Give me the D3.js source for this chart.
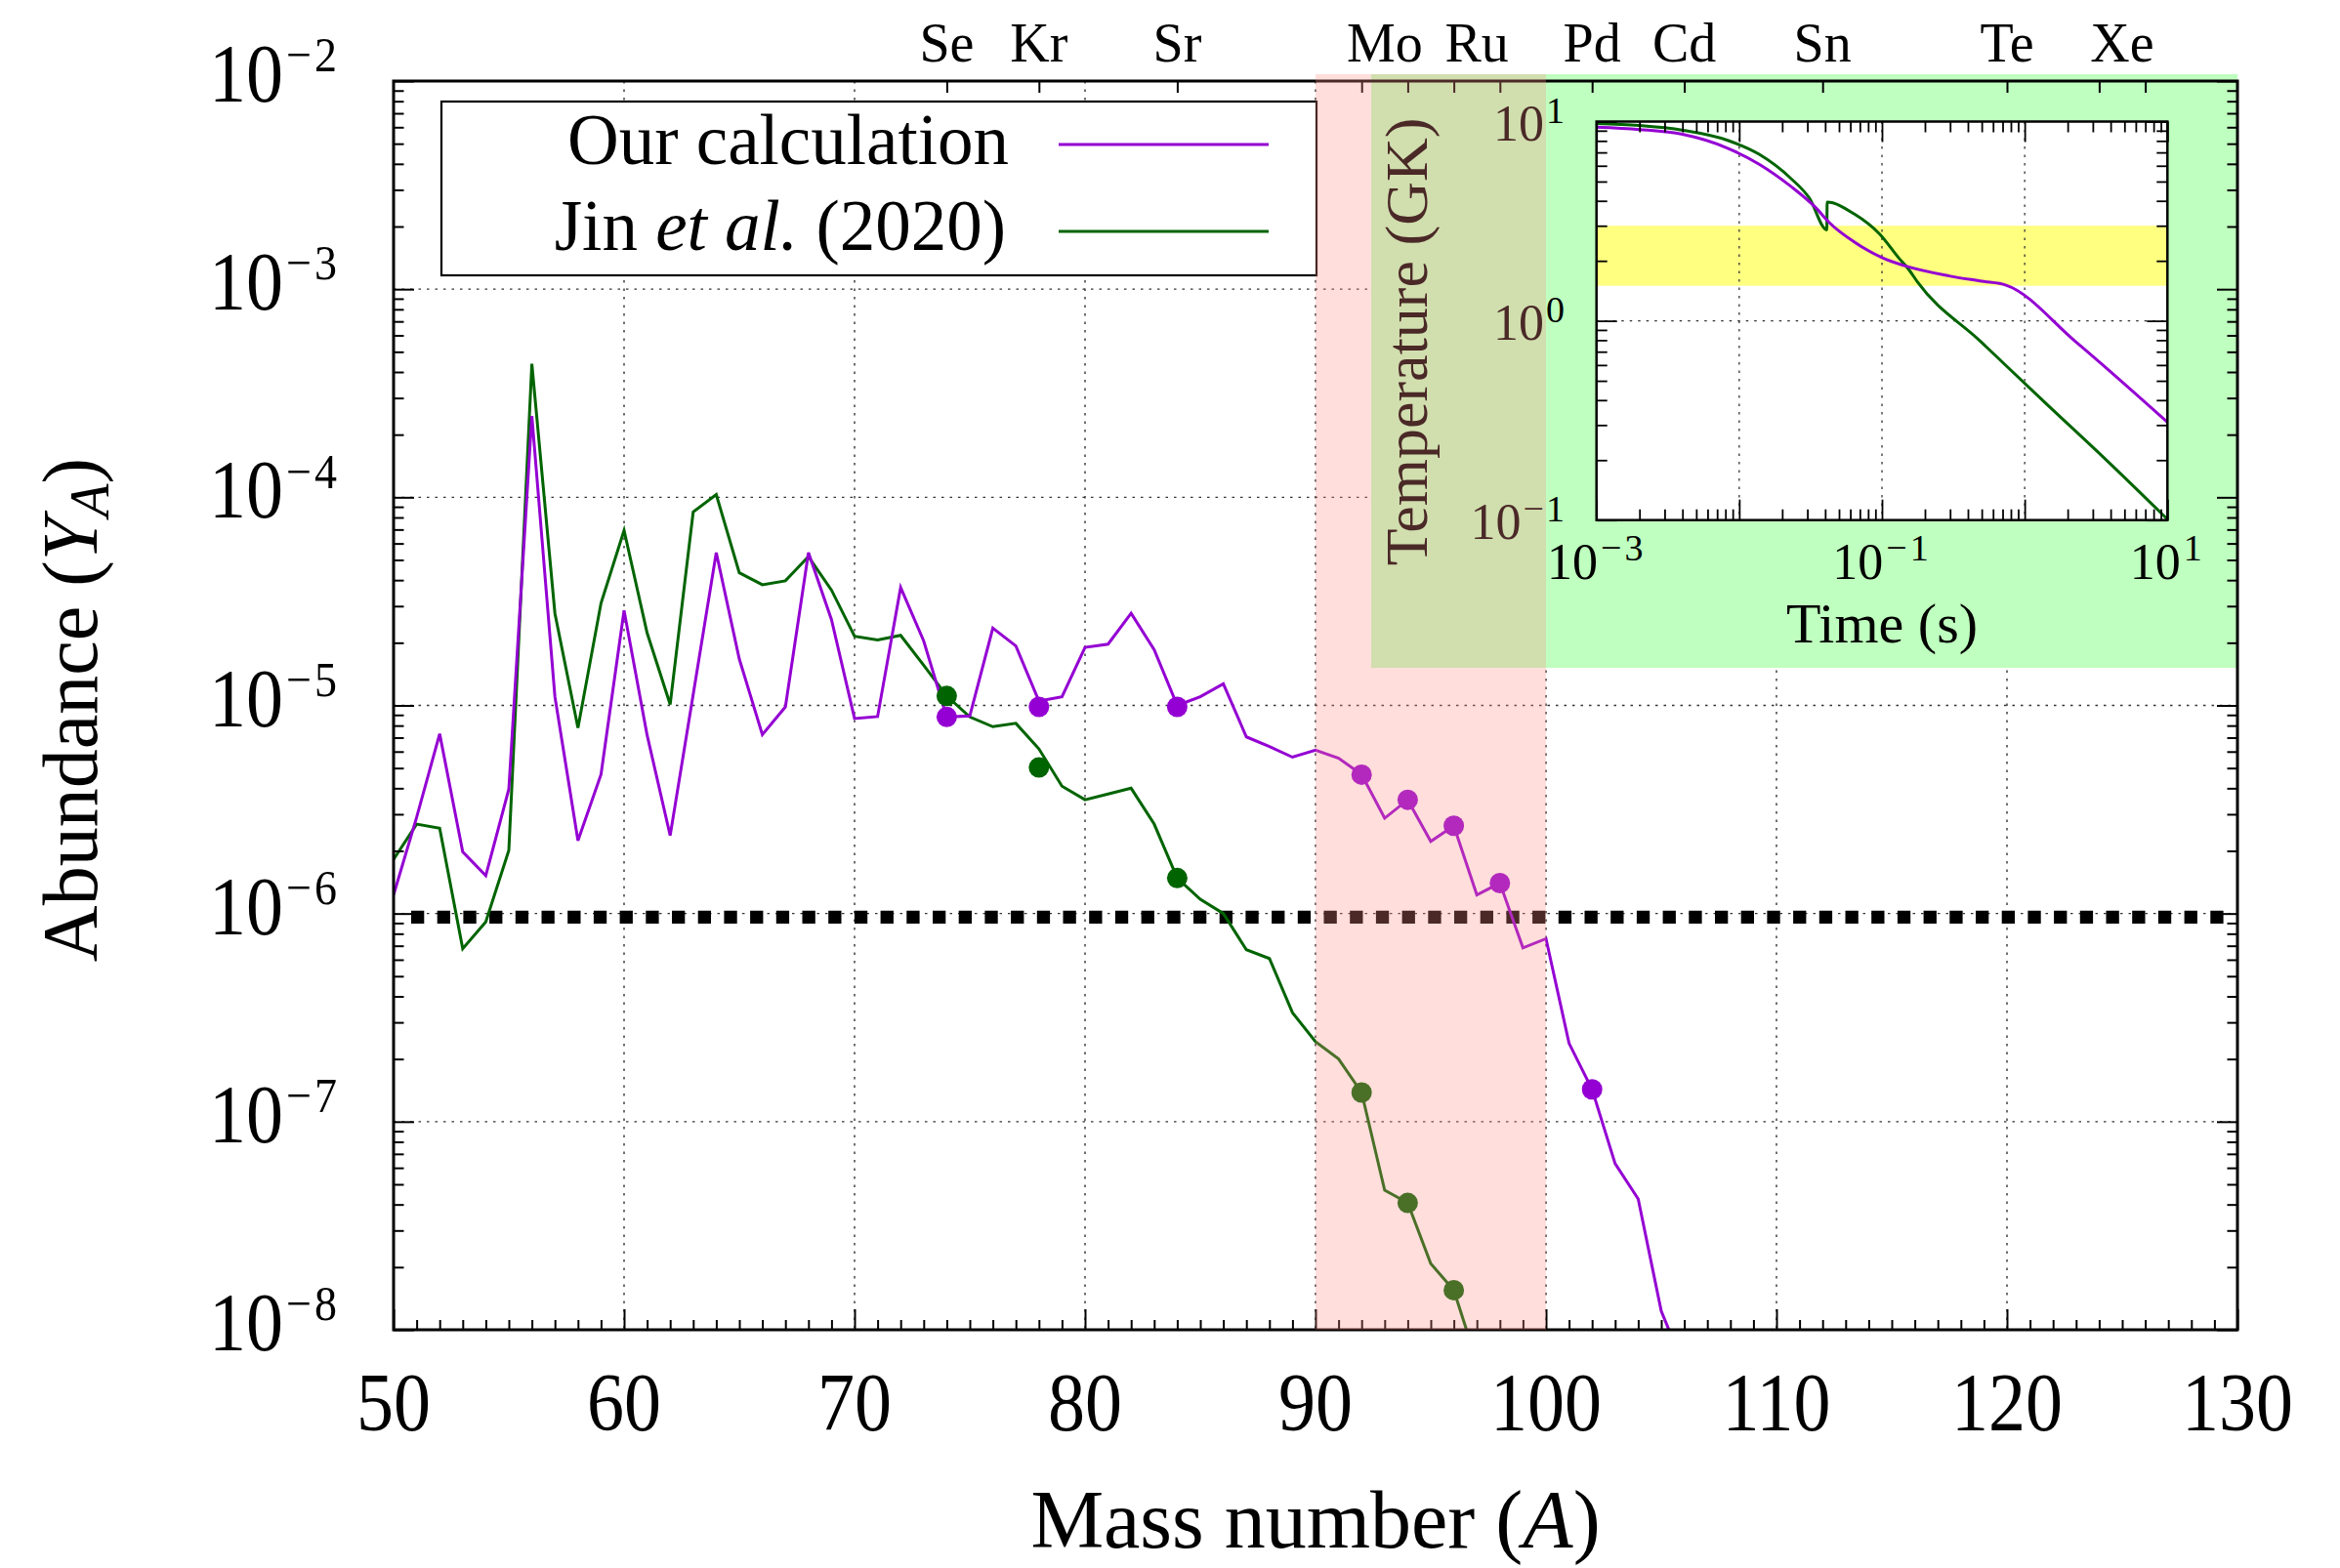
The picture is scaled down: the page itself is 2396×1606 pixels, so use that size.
<!DOCTYPE html>
<html><head><meta charset="utf-8">
<script src="https://cdn.jsdelivr.net/npm/d3@7"></script>
<style>
html,body{margin:0;padding:0;background:#fff;}
svg{display:block;font-family:"Liberation Serif","Times New Roman",serif;}
</style></head><body>
<svg id="chart" width="2396" height="1606"></svg>
<script>
// ---------------- DATA ----------------
const massOurs = [50,51,52,53,54,55,56,57,58,59,60,61,62,63,64,65,66,67,68,69,70,71,72,73,74,75,76,77,78,79,80,81,82,83,84,85,86,87,88,89,90,91,92,93,94,95,96,97,98,99,100,101,102,103,104,105,106];
const yieldOurs = [1.23e-6,2.9e-6,7.3e-6,1.98e-6,1.52e-6,3.96e-6,2.46e-4,1.1e-5,2.24e-6,4.66e-6,2.86e-5,7.2e-6,2.37e-6,1.13e-5,5.42e-5,1.67e-5,7.24e-6,9.84e-6,5.42e-5,2.58e-5,8.65e-6,8.84e-6,3.69e-5,2.04e-5,8.8e-6,8.9e-6,2.35e-5,1.93e-5,1.05e-5,1.1e-5,1.9e-5,1.97e-5,2.77e-5,1.85e-5,1.0e-5,1.1e-5,1.27e-5,7.06e-6,6.34e-6,5.64e-6,6.1e-6,5.58e-6,4.65e-6,2.87e-6,3.52e-6,2.22e-6,2.64e-6,1.23e-6,1.4e-6,6.84e-7,7.57e-7,2.38e-7,1.43e-7,6.28e-8,4.25e-8,1.23e-8,6.6e-9];
const massJin = [50,51,52,53,54,55,56,57,58,59,60,61,62,63,64,65,66,67,68,69,70,71,72,73,74,75,76,77,78,79,80,81,82,83,84,85,86,87,88,89,90,91,92,93,94,95,96,97];
const yieldJin = [1.82e-6,2.69e-6,2.57e-6,6.78e-7,9.11e-7,2.01e-6,4.38e-4,2.77e-5,7.8e-6,3.1e-5,6.93e-5,2.23e-5,1.01e-5,8.5e-5,1.03e-4,4.34e-5,3.8e-5,3.97e-5,5.19e-5,3.58e-5,2.15e-5,2.06e-5,2.17e-5,1.56e-5,1.11e-5,8.8e-6,7.9e-6,8.2e-6,6.18e-6,4.09e-6,3.52e-6,3.75e-6,4.0e-6,2.69e-6,1.48e-6,1.17e-6,1.0e-6,6.7e-7,6.08e-7,3.34e-7,2.42e-7,2.0e-7,1.38e-7,4.68e-8,4.07e-8,2.08e-8,1.55e-8,7e-9];

const pNucleiA = [74,78,84,92,94,96,98,102];
const pNucleiOurs = [8.8e-6,9.84e-6,9.84e-6,4.65e-6,3.52e-6,2.64e-6,1.4e-6,1.43e-7];
const pNucleiJin = [1.11e-5,5.03e-6,1.48e-6,1.38e-7,4.07e-8,1.55e-8,null,null];

const elementNames = ["Se","Kr","Sr","Mo","Ru","Pd","Cd","Sn","Te","Xe"];
const elementLabelA = [74,78,84,93,97,102,106,112,120,125];
const elementTickA = [74,78,84,92,94,96,98,102,106,112,120,124,126];

const threshold = 9.6e-7;
const highlightRange = [90,100];

const xTickValues = [50,60,70,80,90,100,110,120,130];
const yTickExponents = [-2,-3,-4,-5,-6,-7,-8];

const legendLabels = ["Our calculation","Jin et al. (2020)"];

// inset: temperature history
const insetTimeOurs = [1e-3,2e-3,4e-3,8.3e-3,0.0138,0.0229,0.0346,0.0424,0.0638,0.101,0.144,0.295,0.5,0.74,2.27,10];
const insetTempOurs = [9.37,9.12,8.63,7.35,6.11,4.74,3.68,3.13,2.49,2.07,1.89,1.68,1.58,1.51,0.787,0.31];
const insetTimeJin = [1e-3,2e-3,4.05e-3,8.3e-3,0.0138,0.0229,0.031,0.0411,0.0413,0.0638,0.096,0.131,0.155,0.177,0.492,1.36,3.79,10];
const insetTempJin = [9.77,9.55,9.04,8.05,6.85,5.2,4.13,2.86,3.94,3.44,2.73,2.07,1.8,1.57,0.787,0.394,0.198,0.101];
const tempBand = [1.5,3];
const insetXTickExponents = [-3,-1,1];
const insetYTickExponents = [1,0,-1];

// ---------------- COLORS / LAYOUT ----------------
const colOurs = "#9400d3", colJin = "#006400";
const M = {left:403, right:2291, top:83, bottom:1362};
const panel = {x0:1404, x1:2291, y0:76, y1:684};
const inset = {left:1634.7, right:2219.3, top:124.5, bottom:532.7};
const SY = 1.1;

const svg = d3.select("#chart");
const x = d3.scaleLinear().domain([50,130]).range([M.left,M.right]);
const y = d3.scaleLog().domain([1e-8,1e-2]).range([M.bottom,M.top]);

const defs = svg.append("defs");
defs.append("clipPath").attr("id","clipMain").append("rect")
  .attr("x",M.left).attr("y",M.top).attr("width",M.right-M.left).attr("height",M.bottom-M.top);
defs.append("clipPath").attr("id","clipInset").append("rect")
  .attr("x",inset.left).attr("y",inset.top).attr("width",inset.right-inset.left).attr("height",inset.bottom-inset.top);

function pow10(g, px, py, e, size, supSize, anchor, sy, raise, gap){
  const t = g.append("text")
    .attr("transform",`translate(${px},${py}) scale(1,${sy})`)
    .attr("text-anchor",anchor).attr("font-size",size).attr("fill","#000");
  t.append("tspan").text("10");
  t.append("tspan").attr("font-size",supSize).attr("dy",-raise).attr("dx",gap)
    .attr("letter-spacing",gap).text(e<0 ? "\u2212"+(-e) : String(e));
  return t;
}

// ---------------- GRID ----------------
const grid = svg.append("g").attr("stroke","#333").attr("stroke-width",1.4).attr("stroke-dasharray","2.5,6");
grid.selectAll("line.v").data(xTickValues.slice(1,-1)).join("line")
  .attr("x1",d=>x(d)).attr("x2",d=>x(d)).attr("y1",M.top).attr("y2",M.bottom);
grid.selectAll("line.h").data(yTickExponents.slice(1,-1)).join("line")
  .attr("x1",M.left).attr("x2",M.right).attr("y1",d=>y(Math.pow(10,d))).attr("y2",d=>y(Math.pow(10,d)));

// ---------------- INSET PANEL BACKGROUND ----------------
svg.append("rect").attr("x",panel.x0).attr("y",panel.y0)
  .attr("width",panel.x1-panel.x0).attr("height",panel.y1-panel.y0).attr("fill","#bfffbf");

// ---------------- LEGEND ----------------
const leg = svg.append("g");
leg.append("rect").attr("x",452).attr("y",104).attr("width",896).attr("height",178)
  .attr("fill","#fff").attr("stroke","#000").attr("stroke-width",2.2);
leg.append("text").attr("x",1033).attr("y",168).attr("text-anchor","end").attr("font-size",73).text(legendLabels[0]);
const lt = leg.append("text").attr("x",1030).attr("y",256).attr("text-anchor","end").attr("font-size",73);
lt.append("tspan").text("Jin ");
lt.append("tspan").attr("font-style","italic").text("et al.");
lt.append("tspan").text(" (2020)");
leg.append("line").attr("x1",1084).attr("x2",1299).attr("y1",148).attr("y2",148).attr("stroke",colOurs).attr("stroke-width",3);
leg.append("line").attr("x1",1084).attr("x2",1299).attr("y1",237).attr("y2",237).attr("stroke",colJin).attr("stroke-width",3);

// ---------------- THRESHOLD ----------------
svg.append("line").attr("x1",x(50)+18).attr("x2",x(130)).attr("y1",y(threshold)).attr("y2",y(threshold))
  .attr("stroke","#000").attr("stroke-width",13.3).attr("stroke-dasharray","13.3,13.4");

// ---------------- DATA LINES ----------------
const plotG = svg.append("g").attr("clip-path","url(#clipMain)");
const line = d3.line().x(d=>x(d[0])).y(d=>y(d[1]));
plotG.append("path").datum(massJin.map((a,i)=>[a,yieldJin[i]]))
  .attr("d",line).attr("fill","none").attr("stroke",colJin).attr("stroke-width",3).attr("stroke-linejoin","miter");
plotG.append("path").datum(massOurs.map((a,i)=>[a,yieldOurs[i]]))
  .attr("d",line).attr("fill","none").attr("stroke",colOurs).attr("stroke-width",3).attr("stroke-linejoin","miter");
plotG.selectAll("circle.jin").data(pNucleiA.map((a,i)=>[a,pNucleiJin[i]]).filter(d=>d[1]!==null)).join("circle")
  .attr("cx",d=>x(d[0])).attr("cy",d=>y(d[1])).attr("r",10.5).attr("fill",colJin);
plotG.selectAll("circle.ours").data(pNucleiA.map((a,i)=>[a,pNucleiOurs[i]])).join("circle")
  .attr("cx",d=>x(d[0])).attr("cy",d=>y(d[1])).attr("r",10.5).attr("fill",colOurs);

// ---------------- MAIN AXES ----------------
const minorY = [];
yTickExponents.slice(1).forEach(e=>{ for(let m=2;m<=9;m++) minorY.push(m*Math.pow(10,e)); });
const majorY = yTickExponents.map(e=>Math.pow(10,e));
const minorX = [];
for(let a=51;a<130;a++) if(a%10!==0) minorX.push(a);

function styleAxis(g){ g.select(".domain").remove(); g.selectAll(".tick line").attr("stroke","#000").attr("stroke-width",2); }
svg.append("g").attr("transform",`translate(${M.left},0)`).call(d3.axisLeft(y).tickValues(majorY).tickSize(-21).tickFormat("")).call(styleAxis);
svg.append("g").attr("transform",`translate(${M.left},0)`).call(d3.axisLeft(y).tickValues(minorY).tickSize(-10.5).tickFormat("")).call(styleAxis);
svg.append("g").attr("transform",`translate(${M.right},0)`).call(d3.axisRight(y).tickValues(majorY).tickSize(-21).tickFormat("")).call(styleAxis);
svg.append("g").attr("transform",`translate(${M.right},0)`).call(d3.axisRight(y).tickValues(minorY).tickSize(-10.5).tickFormat("")).call(styleAxis);
svg.append("g").attr("transform",`translate(0,${M.bottom})`).call(d3.axisBottom(x).tickValues(xTickValues).tickSize(-21).tickFormat("")).call(styleAxis);
svg.append("g").attr("transform",`translate(0,${M.bottom})`).call(d3.axisBottom(x).tickValues(minorX).tickSize(-10).tickFormat("")).call(styleAxis);
svg.append("g").attr("transform",`translate(0,${M.top})`).call(d3.axisTop(x).tickValues(elementTickA).tickSize(-12).tickFormat("")).call(styleAxis);
svg.append("rect").attr("x",M.left).attr("y",M.top).attr("width",M.right-M.left).attr("height",M.bottom-M.top)
  .attr("fill","none").attr("stroke","#000").attr("stroke-width",3);

// tick labels
const lab = svg.append("g");
yTickExponents.forEach(e=>{
  pow10(lab, 348, y(Math.pow(10,e))+21, e, 76, 46, "end", SY, 28, 3);
});
xTickValues.forEach(v=>{
  lab.append("text").attr("transform",`translate(${x(v)},1465) scale(1,${SY})`)
    .attr("text-anchor","middle").attr("font-size",76).text(v);
});
// axis titles
const yt = lab.append("text").attr("transform","translate(99,727) rotate(-90)")
  .attr("text-anchor","middle").attr("font-size",80);
yt.append("tspan").text("Abundance (");
yt.append("tspan").attr("font-style","italic").text("Y");
yt.append("tspan").attr("font-style","italic").attr("font-size",56).attr("dy",12).text("A");
yt.append("tspan").attr("dy",-12).text(")");
const xt = lab.append("text").attr("transform","translate(1347,1585)")
  .attr("text-anchor","middle").attr("font-size",84);
xt.append("tspan").text("Mass number (");
xt.append("tspan").attr("font-style","italic").text("A");
xt.append("tspan").text(")");

// ---------------- INSET ----------------
const ix = d3.scaleLog().domain([1e-3,10]).range([inset.left,inset.right]);
const iy = d3.scaleLog().domain([0.1,10]).range([inset.bottom,inset.top]);
const ig = svg.append("g");
ig.append("rect").attr("x",inset.left).attr("y",inset.top).attr("width",inset.right-inset.left)
  .attr("height",inset.bottom-inset.top).attr("fill","#fff");
ig.append("rect").attr("x",inset.left).attr("y",iy(tempBand[1])).attr("width",inset.right-inset.left)
  .attr("height",iy(tempBand[0])-iy(tempBand[1])).attr("fill","#ffff80");
const igrid = ig.append("g").attr("stroke","#333").attr("stroke-width",1.3).attr("stroke-dasharray","2.5,6");
igrid.selectAll("line.v").data([1e-2,1e-1,1]).join("line")
  .attr("x1",d=>ix(d)).attr("x2",d=>ix(d)).attr("y1",inset.top).attr("y2",inset.bottom);
igrid.append("line").attr("x1",inset.left).attr("x2",inset.right).attr("y1",iy(1)).attr("y2",iy(1));
const icl = ig.append("g").attr("clip-path","url(#clipInset)");
const iline = d3.line().x(d=>ix(d[0])).y(d=>iy(d[1])).curve(d3.curveMonotoneX);
icl.append("path").datum(insetTimeJin.map((t,i)=>[t,insetTempJin[i]])).attr("d",iline)
  .attr("fill","none").attr("stroke",colJin).attr("stroke-width",3);
icl.append("path").datum(insetTimeOurs.map((t,i)=>[t,insetTempOurs[i]])).attr("d",iline)
  .attr("fill","none").attr("stroke",colOurs).attr("stroke-width",3);

const iMajX=[1e-3,1e-2,1e-1,1,10], iMinX=[], iMajY=[0.1,1,10], iMinY=[];
[1e-3,1e-2,1e-1,1].forEach(b=>{for(let m=2;m<=9;m++) iMinX.push(m*b);});
[0.1,1].forEach(b=>{for(let m=2;m<=9;m++) iMinY.push(m*b);});
function styleI(g){ g.select(".domain").remove(); g.selectAll(".tick line").attr("stroke","#000").attr("stroke-width",1.8); }
ig.append("g").attr("transform",`translate(0,${inset.bottom})`).call(d3.axisBottom(ix).tickValues(iMajX).tickSize(-21).tickFormat("")).call(styleI);
ig.append("g").attr("transform",`translate(0,${inset.bottom})`).call(d3.axisBottom(ix).tickValues(iMinX).tickSize(-11).tickFormat("")).call(styleI);
ig.append("g").attr("transform",`translate(0,${inset.top})`).call(d3.axisTop(ix).tickValues(iMajX).tickSize(-21).tickFormat("")).call(styleI);
ig.append("g").attr("transform",`translate(0,${inset.top})`).call(d3.axisTop(ix).tickValues(iMinX).tickSize(-11).tickFormat("")).call(styleI);
ig.append("g").attr("transform",`translate(${inset.left},0)`).call(d3.axisLeft(iy).tickValues(iMajY).tickSize(-21).tickFormat("")).call(styleI);
ig.append("g").attr("transform",`translate(${inset.left},0)`).call(d3.axisLeft(iy).tickValues(iMinY).tickSize(-11).tickFormat("")).call(styleI);
ig.append("g").attr("transform",`translate(${inset.right},0)`).call(d3.axisRight(iy).tickValues(iMajY).tickSize(-21).tickFormat("")).call(styleI);
ig.append("g").attr("transform",`translate(${inset.right},0)`).call(d3.axisRight(iy).tickValues(iMinY).tickSize(-11).tickFormat("")).call(styleI);
ig.append("rect").attr("x",inset.left).attr("y",inset.top).attr("width",inset.right-inset.left)
  .attr("height",inset.bottom-inset.top).attr("fill","none").attr("stroke","#000").attr("stroke-width",2.5);

insetYTickExponents.forEach(e=>{ pow10(ig, 1604, iy(Math.pow(10,e))+19.5, e, 52, 38, "end", 1, 18.4, 2); });
insetXTickExponents.forEach(e=>{ pow10(ig, ix(Math.pow(10,e)), 592.6, e, 52, 38, "middle", 1, 18.4, 3); });
ig.append("text").attr("transform","translate(1927,658)").attr("text-anchor","middle").attr("font-size",58).text("Time (s)");
ig.append("text").attr("transform","translate(1461,350) rotate(-90)").attr("text-anchor","middle").attr("font-size",62).text("Temperature (GK)");

// ---------------- HIGHLIGHT OVERLAY ----------------
svg.append("rect").attr("x",x(highlightRange[0])).attr("y",76)
  .attr("width",x(highlightRange[1])-x(highlightRange[0])).attr("height",M.bottom-76)
  .attr("fill","rgb(255,143,136)").attr("fill-opacity",0.29);

// ---------------- ELEMENT LABELS ----------------
svg.append("g").selectAll("text").data(elementNames).join("text")
  .attr("x",(d,i)=>x(elementLabelA[i])).attr("y",63).attr("text-anchor","middle")
  .attr("font-size",56).text(d=>d);
</script>
</body></html>
